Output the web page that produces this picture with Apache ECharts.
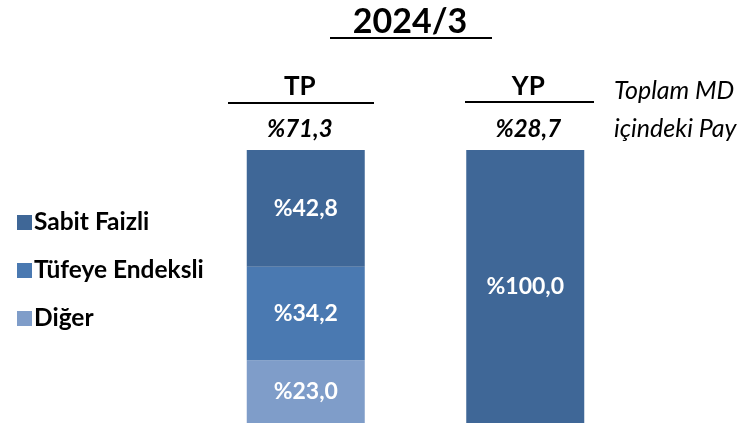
<!DOCTYPE html>
<html>
<head>
<meta charset="utf-8">
<script src="https://cdn.jsdelivr.net/npm/echarts@6/dist/echarts.min.js"></script>
<style>
  html, body { margin: 0; padding: 0; background: #fff; }
  #chart { width: 751px; height: 425px; }
</style>
</head>
<body>
<div id="chart"></div>
<script>
const period = '2024/3'
const categories = ['TP', 'YP']
const totalShares = [71.3, 28.7]          // Toplam MD içindeki pay
const seriesNames = ['Sabit Faizli', 'Tüfeye Endeksli', 'Diğer']
const sabitFaizli = [42.8, 100.0]
const tufeyeEndeksli = [34.2, 0]
const diger = [23.0, 0]
const colors = ['#3f6797', '#4a79b1', '#7f9dc9']

const FONT = 'Lato'
const fmtPct = v => '%' + v.toFixed(1).replace('.', ',')

const chart = echarts.init(document.getElementById('chart'))

const makeSeries = (name, data, color) => ({
  name,
  type: 'bar',
  stack: 'total',
  data,
  barWidth: 118,
  itemStyle: { color },
  label: {
    show: true,
    position: 'inside',
    color: '#fff',
    fontFamily: FONT,
    fontWeight: 'bold',
    fontSize: 23,
    formatter: p => (p.value > 0 ? fmtPct(p.value) : ''),
  },
  emphasis: { disabled: true },
})

// header text is a little off the bar centre in the original
const headRich = (shift) => ({
  n: { fontFamily: FONT, fontWeight: 'bold', fontSize: 26, color: '#000', lineHeight: 54, padding: shift },
  s: { fontFamily: FONT, fontWeight: 'bold', fontStyle: 'italic', fontSize: 24, color: '#000', lineHeight: 30, padding: shift },
})
const left = headRich([0, 12, 0, 0])
const right = headRich([0, 0, 0, 6])

const option = {
  animation: false,
  textStyle: { fontFamily: FONT },
  title: {
    text: period,
    left: 405,
    textAlign: 'center',
    top: 0,
    textStyle: { fontFamily: FONT, fontWeight: 'bold', fontSize: 34, color: '#000' },
  },
  legend: {
    orient: 'vertical',
    left: 12,
    top: 205,
    itemWidth: 15,
    itemHeight: 15,
    itemGap: 23,
    icon: 'rect',
    data: seriesNames,
    textStyle: { fontFamily: FONT, fontWeight: 'bold', fontSize: 24.5, color: '#000', padding: [0, 0, 0, -3] },
    selectedMode: false,
  },
  grid: { left: 196, top: 150, width: 439, bottom: 2 },
  xAxis: {
    type: 'category',
    position: 'top',
    data: categories,
    axisLine: { show: false },
    axisTick: { show: false },
    axisLabel: {
      margin: 6,
      formatter: (v, i) => i === 0
        ? '{n0|' + v + '}\n{s0|' + fmtPct(totalShares[i]) + '}'
        : '{n1|' + v + '}\n{s1|' + fmtPct(totalShares[i]) + '}',
      rich: { n0: left.n, s0: left.s, n1: right.n, s1: right.s },
    },
  },
  yAxis: {
    type: 'value',
    min: 0,
    max: 100,
    show: false,
  },
  series: [
    makeSeries('Diğer', diger, colors[2]),
    makeSeries('Tüfeye Endeksli', tufeyeEndeksli, colors[1]),
    makeSeries('Sabit Faizli', sabitFaizli, colors[0]),
  ],
  graphic: [
    { type: 'line', shape: { x1: 330, y1: 38, x2: 492, y2: 38 }, style: { stroke: '#000', lineWidth: 2 } },
    { type: 'line', shape: { x1: 228, y1: 103, x2: 374, y2: 103 }, style: { stroke: '#000', lineWidth: 2 } },
    { type: 'line', shape: { x1: 465, y1: 102, x2: 594, y2: 102 }, style: { stroke: '#000', lineWidth: 2 } },
    {
      type: 'text',
      left: 614,
      top: 72,
      style: {
        text: 'Toplam MD\niçindeki Pay',
        fontFamily: FONT,
        fontStyle: 'italic',
        fontSize: 25,
        lineHeight: 38,
        fill: '#000',
      },
    },
  ],
}

chart.setOption(option)
</script>
</body>
</html>
